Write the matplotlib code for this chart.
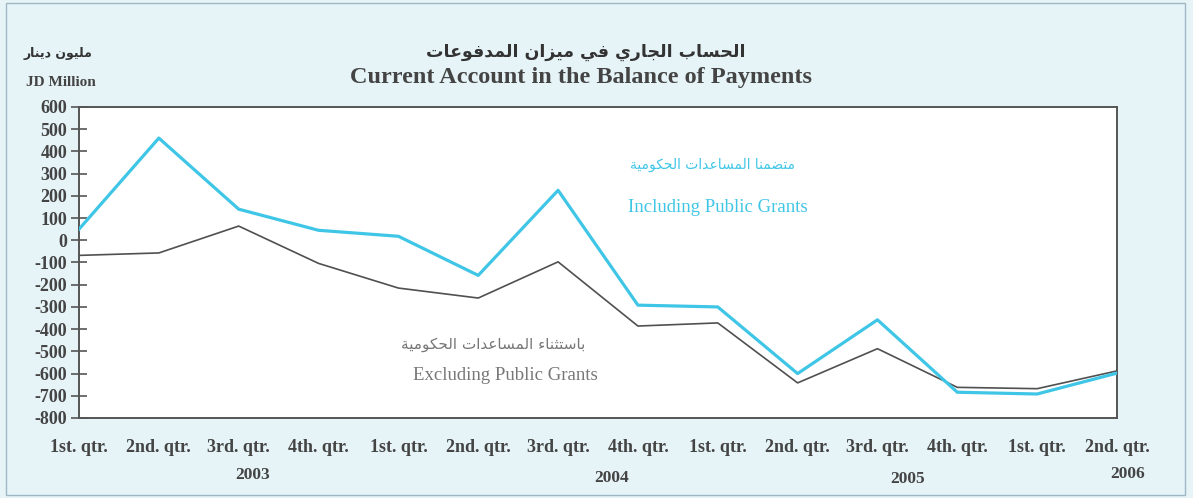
import matplotlib.pyplot as plt
from matplotlib.patches import Rectangle

# quarterly current account, JD million (2003 Q1 .. 2006 Q2)
quarters = ['1st. qtr.', '2nd. qtr.', '3rd. qtr.', '4th. qtr.',
            '1st. qtr.', '2nd. qtr.', '3rd. qtr.', '4th. qtr.',
            '1st. qtr.', '2nd. qtr.', '3rd. qtr.', '4th. qtr.',
            '1st. qtr.', '2nd. qtr.']
years = ['2003', '2004', '2005', '2006']
incl_grants = [50, 460, 140, 45, 18, -158, 225, -292, -300, -600, -358, -684, -692, -598]
excl_grants = [-68, -57, 64, -104, -215, -260, -97, -386, -372, -642, -488, -662, -668, -588]
yticks = list(range(-800, 601, 100))

# matplotlib has no arabic shaping, so map letters to presentation forms by hand
AR_FORMS = {
    'ء': (0xFE80, 0), 'ا': (0xFE8D, 1), 'ب': (0xFE8F, 2), 'ة': (0xFE93, 1),
    'ت': (0xFE95, 2), 'ث': (0xFE99, 2), 'ج': (0xFE9D, 2), 'ح': (0xFEA1, 2),
    'د': (0xFEA9, 1), 'ر': (0xFEAD, 1), 'ز': (0xFEAF, 1), 'س': (0xFEB1, 2),
    'ض': (0xFEBD, 2), 'ع': (0xFEC9, 2), 'ف': (0xFED1, 2), 'ك': (0xFED9, 2),
    'ل': (0xFEDD, 2), 'م': (0xFEE1, 2), 'ن': (0xFEE5, 2), 'و': (0xFEED, 1),
    'ي': (0xFEF1, 2),
}


def shape_ar(s):
    out = []
    for i, ch in enumerate(s):
        if ch not in AR_FORMS:
            out.append(ch)
            continue
        base, kind = AR_FORMS[ch]
        prev = s[i - 1] if i > 0 else ''
        nxt = s[i + 1] if i + 1 < len(s) else ''
        join_prev = kind > 0 and prev in AR_FORMS and AR_FORMS[prev][1] == 2
        join_next = kind == 2 and nxt in AR_FORMS and AR_FORMS[nxt][1] > 0
        if join_prev and join_next:
            code = base + 3
        elif join_prev:
            code = base + 1
        elif join_next:
            code = base + 2
        else:
            code = base
        out.append(chr(code))
    return ''.join(out)[::-1]


bg = '#e6f4f8'
cyan = '#3fc6e6'
grey = '#505050'
txt = '#444444'
serif = 'Liberation Serif'
arab = ['DejaVu Sans']

W, H = 1193, 498
fig = plt.figure(figsize=(W / 100, H / 100), dpi=100, facecolor=bg)
ax = fig.add_axes([79 / W, 1 - 418 / H, (1117 - 79) / W, (418 - 107) / H])
ax.set_facecolor('white')

x = list(range(len(quarters)))
ax.plot(x, excl_grants, color=grey, lw=1.2, zorder=3)
ax.plot(x, incl_grants, color=cyan, lw=2.3, zorder=4)

ax.set_xlim(0, len(quarters) - 1)
ax.set_ylim(-800, 600)
ax.set_yticks(yticks)
ax.set_yticklabels([str(v) for v in yticks], fontfamily=serif,
                   fontweight='bold', fontsize=13, color=txt)
ax.tick_params(axis='y', direction='inout', length=11, width=1.2,
               color='#555555', pad=3)
ax.set_xticks(x)
ax.set_xticklabels(quarters, fontfamily=serif, fontweight='bold',
                   fontsize=13, color=txt)
ax.tick_params(axis='x', length=0, pad=15)
for s in ax.spines.values():
    s.set_color('#555555')
    s.set_linewidth(1.4)

# years under the quarter labels
for yr, px, py in zip(years, [253, 612, 908, 1128], [475, 478, 479, 474]):
    fig.text(px / W, 1 - py / H, yr, ha='center', va='center',
             fontfamily=serif, fontweight='bold', fontsize=12.5, color=txt)

# titles
fig.text(586 / W, 1 - 52 / H, shape_ar('الحساب الجاري في ميزان المدفوعات'),
         ha='center', va='center', family=arab, fontweight='bold',
         fontsize=12.5, color='#333333')
fig.text(581 / W, 1 - 78 / H, 'Current Account in the Balance of Payments',
         ha='center', va='center', fontfamily=serif, fontweight='bold',
         fontsize=17.5, color=txt)
fig.text(58 / W, 1 - 54 / H, shape_ar('مليون دينار'), ha='center', va='center',
         family=arab, fontweight='bold', fontsize=9, color='#333333')
fig.text(61 / W, 1 - 82 / H, 'JD Million', ha='center', va='center',
         fontfamily=serif, fontweight='bold', fontsize=11, color=txt)

# series labels
fig.text(712 / W, 1 - 165 / H, shape_ar('متضمنا المساعدات الحكومية'),
         ha='center', va='center', family=arab, fontsize=10, color=cyan)
fig.text(718 / W, 1 - 208 / H, 'Including Public Grants', ha='center',
         va='center', fontfamily=serif, fontsize=13.5, color=cyan)
fig.text(493 / W, 1 - 345 / H, shape_ar('باستثناء المساعدات الحكومية'),
         ha='center', va='center', family=arab, fontsize=11, color='#777777')
fig.text(505 / W, 1 - 375 / H, 'Excluding Public Grants', ha='center',
         va='center', fontfamily=serif, fontsize=13.5, color='#777777')

# thin frame round the whole panel
fig.patches.append(Rectangle((6 / W, 3 / H), (1185 - 6) / W, (495 - 3) / H,
                             transform=fig.transFigure, fill=False,
                             edgecolor='#9fb7c4', lw=1))

fig.savefig('out.png', dpi=100, facecolor=bg)
